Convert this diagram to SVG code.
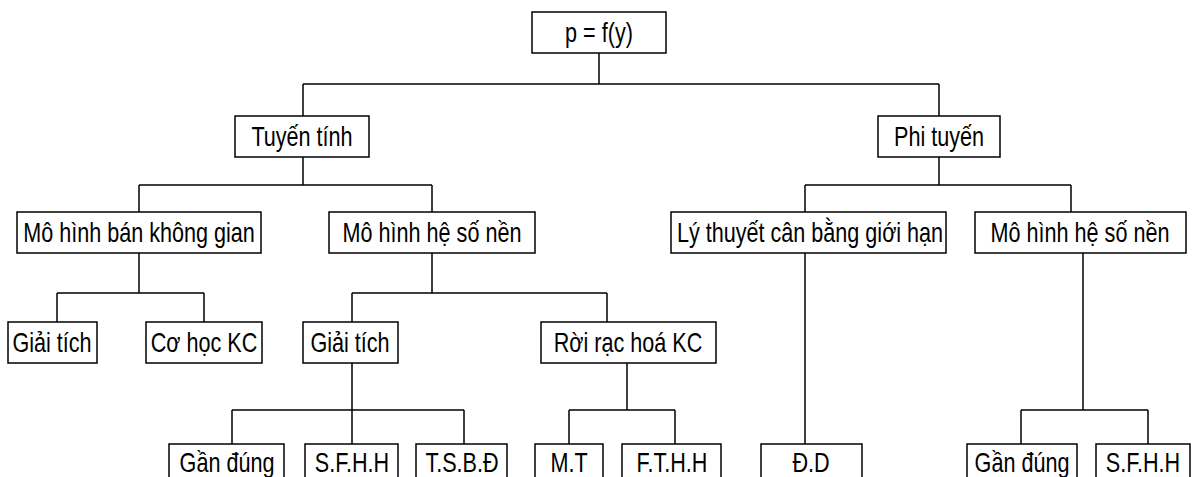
<svg xmlns="http://www.w3.org/2000/svg" width="1192" height="477" viewBox="0 0 1192 477">
  <style>
    .box { fill: #ffffff; stroke: #000000; stroke-width: 1.5; }
    .lbl { font-family: "Liberation Sans", Arial, sans-serif; font-size: 27px; fill: #000000; text-anchor: middle; }
    .wire { fill: none; stroke: #000000; stroke-width: 1.5; }
  </style>
  <rect width="1192" height="477" fill="#ffffff"/>

  <!-- connectors -->
  <g id="connectors" class="wire">
    <path d="M599 53 V84 M303 84 H939 M303 84 V116 M939 84 V116"/>
    <path d="M303 157 V185 M139 185 H432 M139 185 V212 M432 185 V212"/>
    <path d="M939 157 V185 M805 185 H1071 M805 185 V212 M1071 185 V212"/>
    <path d="M139 253 V293 M57 293 H204 M57 293 V322 M204 293 V322"/>
    <path d="M432 253 V293 M352 293 H607 M352 293 V322 M607 293 V322"/>
    <path d="M352 363 V410 M232 410 H464 M232 410 V444 M352 410 V444 M464 410 V444"/>
    <path d="M627 363 V410 M569 410 H675 M569 410 V444 M675 410 V444"/>
    <path d="M805 253 V444"/>
    <path d="M1083 253 V410 M1021 410 H1148 M1021 410 V444 M1148 410 V444"/>
  </g>

  <!-- root -->
  <g id="n-root">
    <rect class="box" x="532" y="12" width="134" height="41"/>
    <text class="lbl" transform="translate(599 42) scale(0.8 1)">p = f(y)</text>
  </g>

  <!-- level 1 -->
  <g id="n-tuyen-tinh">
    <rect class="box" x="235" y="116" width="134" height="41"/>
    <text class="lbl" transform="translate(302 146) scale(0.8 1)">Tuyến tính</text>
  </g>
  <g id="n-phi-tuyen">
    <rect class="box" x="878" y="116" width="122" height="41"/>
    <text class="lbl" transform="translate(939 146) scale(0.8 1)">Phi tuyến</text>
  </g>

  <!-- level 2 -->
  <g id="n-ban-khong-gian">
    <rect class="box" x="17" y="212" width="244" height="41"/>
    <text class="lbl" transform="translate(139 242) scale(0.8 1)">Mô hình bán không gian</text>
  </g>
  <g id="n-he-so-nen-1">
    <rect class="box" x="329" y="212" width="206" height="41"/>
    <text class="lbl" transform="translate(432 242) scale(0.8 1)">Mô hình hệ số nền</text>
  </g>
  <g id="n-can-bang">
    <rect class="box" x="671" y="212" width="275" height="41"/>
    <text class="lbl" transform="translate(810 242) scale(0.8 1)">Lý thuyết cân bằng giới hạn</text>
  </g>
  <g id="n-he-so-nen-2">
    <rect class="box" x="975" y="212" width="211" height="41"/>
    <text class="lbl" transform="translate(1080 242) scale(0.8 1)">Mô hình hệ số nền</text>
  </g>

  <!-- level 3 -->
  <g id="n-giai-tich-1">
    <rect class="box" x="8" y="322" width="89" height="41"/>
    <text class="lbl" transform="translate(52 352) scale(0.8 1)">Giải tích</text>
  </g>
  <g id="n-co-hoc">
    <rect class="box" x="146" y="322" width="116" height="41"/>
    <text class="lbl" transform="translate(204 352) scale(0.8 1)">Cơ học KC</text>
  </g>
  <g id="n-giai-tich-2">
    <rect class="box" x="303" y="322" width="95" height="41"/>
    <text class="lbl" transform="translate(350 352) scale(0.8 1)">Giải tích</text>
  </g>
  <g id="n-roi-rac">
    <rect class="box" x="541" y="322" width="175" height="41"/>
    <text class="lbl" transform="translate(628 352) scale(0.8 1)">Rời rạc hoá KC</text>
  </g>

  <!-- level 4 (lower edges run past the bottom) -->
  <g id="n-gan-dung-1">
    <rect class="box" x="169" y="444" width="115" height="50"/>
    <text class="lbl" transform="translate(227 472) scale(0.8 1)">Gần đúng</text>
  </g>
  <g id="n-sfhh-1">
    <rect class="box" x="305" y="444" width="93" height="50"/>
    <text class="lbl" transform="translate(352 472) scale(0.8 1)">S.F.H.H</text>
  </g>
  <g id="n-tsbd">
    <rect class="box" x="416" y="444" width="91" height="50"/>
    <text class="lbl" transform="translate(462 472) scale(0.8 1)">T.S.B.Đ</text>
  </g>
  <g id="n-mt">
    <rect class="box" x="535" y="444" width="68" height="50"/>
    <text class="lbl" transform="translate(569 472) scale(0.8 1)">M.T</text>
  </g>
  <g id="n-fthh">
    <rect class="box" x="622" y="444" width="99" height="50"/>
    <text class="lbl" transform="translate(672 472) scale(0.8 1)">F.T.H.H</text>
  </g>
  <g id="n-dd">
    <rect class="box" x="761" y="444" width="101" height="50"/>
    <text class="lbl" transform="translate(811 472) scale(0.8 1)">Đ.D</text>
  </g>
  <g id="n-gan-dung-2">
    <rect class="box" x="967" y="444" width="110" height="50"/>
    <text class="lbl" transform="translate(1022 472) scale(0.8 1)">Gần đúng</text>
  </g>
  <g id="n-sfhh-2">
    <rect class="box" x="1096" y="444" width="94" height="50"/>
    <text class="lbl" transform="translate(1143 472) scale(0.8 1)">S.F.H.H</text>
  </g>
</svg>
